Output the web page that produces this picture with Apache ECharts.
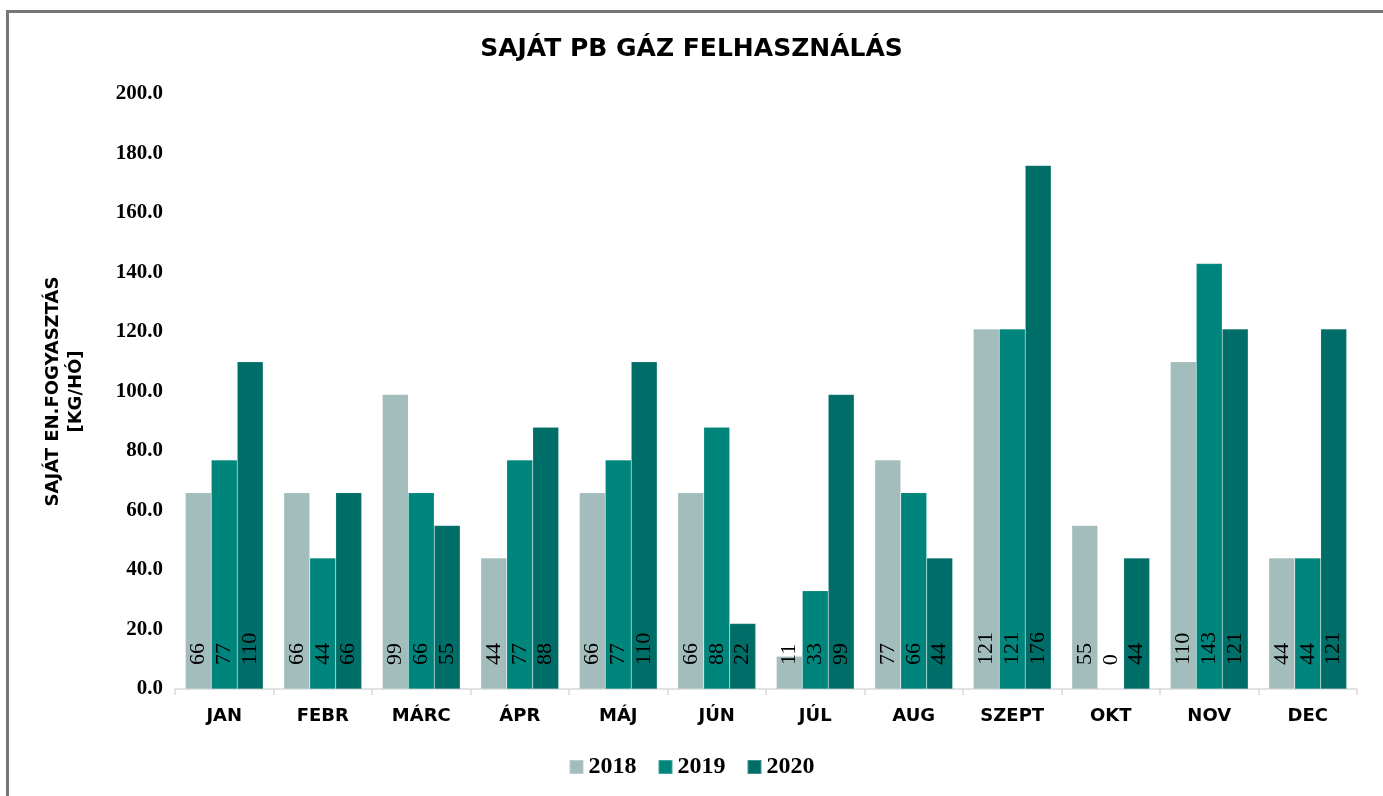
<!DOCTYPE html>
<html>
<head>
<meta charset="utf-8">
<script src="https://cdn.jsdelivr.net/npm/echarts@6/dist/echarts.min.js"></script>
<style>
  html, body { margin: 0; padding: 0; background: #fff; }
  #chart { width: 1383px; height: 796px; }
</style>
</head>
<body>
<div id="chart"></div>
<script>
  // data
  const months = ['JAN', 'FEBR', 'MÁRC', 'ÁPR', 'MÁJ', 'JÚN', 'JÚL', 'AUG', 'SZEPT', 'OKT', 'NOV', 'DEC']
  const years = ['2018', '2019', '2020']
  const values2018 = [66, 66, 99, 44, 66, 66, 11, 77, 121, 55, 110, 44]
  const values2019 = [77, 44, 66, 77, 77, 88, 33, 66, 121, 0, 143, 44]
  const values2020 = [110, 66, 55, 88, 110, 22, 99, 44, 176, 44, 121, 121]
  const colors = ['#a2bdbc', '#00857c', '#006e68']

  const serif = '"Liberation Serif", "DejaVu Serif", serif'
  const sans = '"DejaVu Sans", Lato, sans-serif'

  const myChart = echarts.init(document.getElementById('chart'))

  function makeSeries(name, data, color) {
    return {
      name,
      type: 'bar',
      data,
      barGap: 0,
      barCategoryGap: '21%',
      itemStyle: { color, borderColor: 'rgba(255,255,255,0.25)', borderWidth: 0.5 },
      label: {
        show: true,
        position: 'insideBottom',
        rotate: 90,
        align: 'left',
        verticalAlign: 'middle',
        distance: 24,
        color: '#000',
        fontFamily: serif,
        fontSize: 22
      }
    }
  }

  const option = {
    backgroundColor: '#fff',
    animation: false,
    title: {
      text: 'SAJÁT PB GÁZ FELHASZNÁLÁS',
      left: 'center',
      top: 32,
      textStyle: { fontFamily: sans, fontWeight: 'bold', fontSize: 25, color: '#000' }
    },
    legend: {
      data: years,
      top: 750,
      left: 'center',
      itemWidth: 14,
      itemHeight: 14,
      itemGap: 21,
      icon: 'rect',
      textStyle: { fontFamily: serif, fontWeight: 'bold', fontSize: 24, color: '#000' }
    },
    grid: { left: 175, right: 26, top: 94, bottom: 107 },
    xAxis: {
      type: 'category',
      data: months,
      axisLine: { lineStyle: { color: '#d9d9d9', width: 1.5 } },
      axisTick: { show: true, length: 6, lineStyle: { color: '#d9d9d9', width: 1.5 } },
      axisLabel: { margin: 18, fontFamily: sans, fontWeight: 'bold', fontSize: 18, color: '#000' }
    },
    yAxis: {
      type: 'value',
      min: 0,
      max: 200,
      interval: 20,
      name: 'SAJÁT EN.FOGYASZTÁS\n[KG/HÓ]',
      nameLocation: 'middle',
      nameGap: 87,
      nameRotate: 90,
      nameTextStyle: { fontFamily: sans, fontWeight: 'bold', fontSize: 18, color: '#000', lineHeight: 23 },
      axisLine: { show: false },
      axisTick: { show: false },
      splitLine: { show: false },
      axisLabel: {
        margin: 12,
        fontFamily: serif,
        fontWeight: 'bold',
        fontSize: 21,
        color: '#000',
        formatter: (v) => v.toFixed(1)
      }
    },
    graphic: [
      {
        type: 'rect',
        shape: { x: 7.5, y: 11.5, width: 1420, height: 820 },
        style: { fill: 'none', stroke: '#777', lineWidth: 3 },
        silent: true
      }
    ],
    series: [
      makeSeries(years[0], values2018, colors[0]),
      makeSeries(years[1], values2019, colors[1]),
      makeSeries(years[2], values2020, colors[2])
    ]
  }

  myChart.setOption(option)
</script>
</body>
</html>
